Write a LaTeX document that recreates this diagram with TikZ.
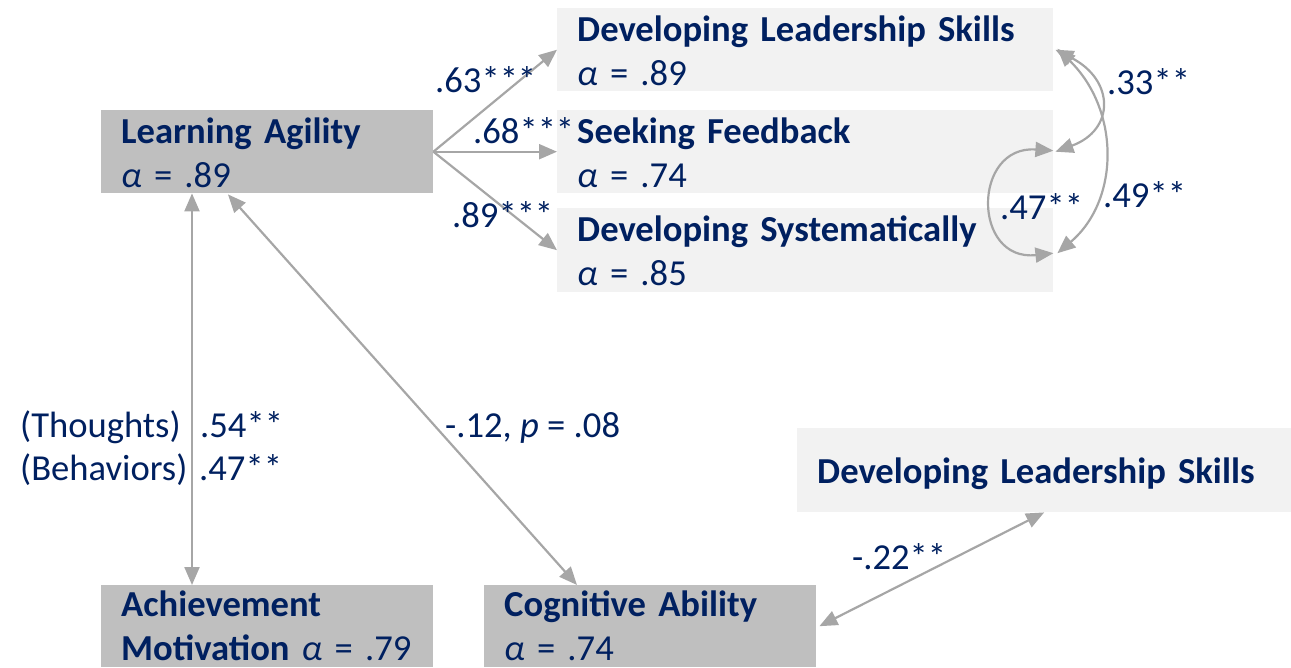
\documentclass[tikz,border=0pt]{standalone}
\usepackage{fontspec}
\setmainfont{Carlito}
\usetikzlibrary{arrows.meta}
\definecolor{navy}{HTML}{002060}
\definecolor{boxdark}{HTML}{BFBFBF}
\definecolor{boxlight}{HTML}{F2F2F2}
\definecolor{linkgray}{HTML}{A6A6A6}

\newcommand{\topstrut}{\rule{0pt}{33pt}}
\newcommand{\lowtopstrut}{\rule{0pt}{31pt}}

\begin{document}
\begin{tikzpicture}[x=1pt,y=-1pt,
  txt/.style={font=\fontsize{36.6}{44}\selectfont, text=navy},
  construct/.style 2 args={txt, anchor=north west, inner xsep=20pt, inner ysep=0pt,
    align=left, text width=#1, minimum height=#2},
  latent/.style={fill=boxdark},
  facet/.style={fill=boxlight},
  coef/.style={txt, anchor=base west, inner sep=0pt},
  link/.style={draw=linkgray, line width=2.2pt,
    -{Triangle[length=18pt,width=15pt]}},
  dlink/.style={draw=linkgray, line width=2.2pt,
    {Triangle[length=18pt,width=15pt]}-{Triangle[length=18pt,width=15pt]}}
]
\useasboundingbox (0,0) rectangle (1291,667);

% constructs
\node[construct={292pt}{83pt}, latent] (la) at (101,110)
  {\topstrut\textbf{Learning Agility}\\\textit{α} = .89\rule[-6pt]{0pt}{6pt}};
\node[construct={456pt}{83pt}, facet] (dls) at (557,8)
  {\topstrut\textbf{Developing Leadership Skills}\\\textit{α} = .89\rule[-6pt]{0pt}{6pt}};
\node[construct={456pt}{83pt}, facet] (sf) at (557,110)
  {\topstrut\textbf{Seeking Feedback}\\\textit{α} = .74\rule[-6pt]{0pt}{6pt}};
\node[construct={456pt}{84pt}, facet] (ds) at (557,208)
  {\topstrut\textbf{Developing Systematically}\\\textit{α} = .85\rule[-7pt]{0pt}{7pt}};
\node[construct={454pt}{84pt}, facet] (dls2) at (797,428)
  {\rule[-29pt]{0pt}{84pt}\textbf{Developing Leadership Skills}};
\node[construct={292pt}{82pt}, latent] (am) at (101,585)
  {\lowtopstrut\textbf{Achievement}\\\textbf{Motivation} \textit{α} = .79\rule[-7pt]{0pt}{7pt}};
\node[construct={292pt}{82pt}, latent] (ca) at (484,585)
  {\lowtopstrut\textbf{Cognitive Ability}\\\textit{α} = .74\rule[-7pt]{0pt}{7pt}};

% paths from learning agility to its facets
\draw[link] (la.east) -- (dls.west);
\draw[link] (la.east) -- (sf.west);
\draw[link] (la.east) -- (ds.west);

% correlations
\draw[dlink] ([xshift=91pt]la.south west) -- ([xshift=91pt]am.north west);
\draw[dlink] ([xshift=127pt,yshift=-1pt]la.south west) -- ([xshift=93pt]ca.north west);
\draw[dlink] ([xshift=3pt]ca.east) -- (dls2.south);

% facet covariances
\draw[dlink] ([xshift=2pt]dls.east) .. controls (1115,80) and (1115,130) .. ([xshift=2pt]sf.east);
\draw[dlink] ([xshift=4pt,yshift=1pt]dls.east) .. controls (1120,110) and (1120,200) .. ([xshift=4pt,yshift=-3pt]ds.east);
\draw[dlink] ([yshift=1pt]sf.east) .. controls (972,145) and (972,262) .. ([yshift=-3pt]ds.east);

% coefficients
\node[coef] (c63) at (435,92) {.63***};
\node[coef] (c68) at (473,143) {.68***};
\node[coef] (c89) at (452,227) {.89***};
\node[coef] (tho) at (20,437) {(Thoughts)};
\node[coef] (c54) at (200,437) {.54**};
\node[coef] (beh) at (20,480) {(Behaviors)};
\node[coef] (c47a) at (199,480) {.47**};
\node[coef] (c12) at (445,437) {-.12, \textit{p} = .08};
\node[coef] (c22) at (852,569) {-.22**};
\node[coef] (c33) at (1107,94) {.33**};
\node[coef] (c49) at (1103,207) {.49**};
\node[coef] (c47b) at (1000,219) {.47**};
\end{tikzpicture}
\end{document}
